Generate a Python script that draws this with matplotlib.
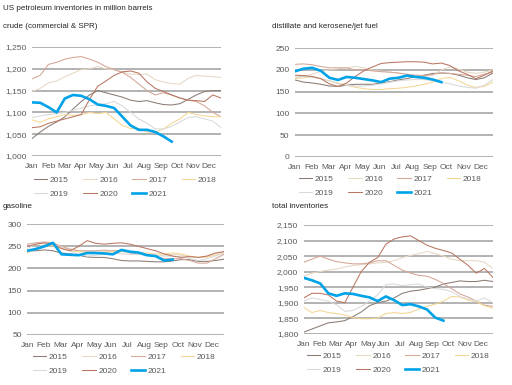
import numpy as np
import matplotlib
matplotlib.use("Agg")
import matplotlib.pyplot as plt

plt.rcParams['font.family'] = ['Liberation Sans', 'DejaVu Sans']

months = ["Jan", "Feb", "Mar", "Apr", "May", "Jun", "Jul", "Aug", "Sep", "Oct", "Nov", "Dec"]
years = ["2015", "2016", "2017", "2018", "2019", "2020", "2021"]
colors = {"2015": "#8a7b74", "2016": "#e6d8c3", "2017": "#d4a697", "2018": "#f4d692",
          "2019": "#d9d9d9", "2020": "#b97662", "2021": "#00a3e8"}

# ---------------- crude (commercial & SPR) ----------------
crude = {
    "2015": [1040, 1055, 1068, 1078, 1090, 1108, 1125, 1140, 1150, 1145, 1140, 1135, 1128, 1125, 1127, 1122,
             1118, 1117, 1120, 1130, 1140, 1148, 1150, 1150],
    "2016": [1148, 1155, 1168, 1172, 1182, 1190, 1198, 1200, 1205, 1200, 1198, 1192, 1188, 1187, 1188, 1175,
             1170, 1166, 1165, 1178, 1185, 1183, 1182, 1180],
    "2017": [1177, 1185, 1210, 1215, 1222, 1226, 1228, 1222, 1215, 1205, 1198, 1192, 1180, 1165, 1150, 1140,
             1145, 1140, 1133, 1128, 1125, 1115, 1100, 1090],
    "2018": [1083, 1077, 1085, 1090, 1095, 1093, 1095, 1100, 1097, 1100, 1085, 1070, 1063, 1063, 1055, 1055,
             1062, 1075, 1085, 1100, 1095, 1092, 1090, 1090],
    "2019": [1088, 1092, 1095, 1097, 1100, 1105, 1110, 1115, 1118, 1120, 1125, 1115, 1100, 1085, 1075, 1062,
             1062, 1068, 1078, 1088, 1090, 1085, 1080, 1065],
    "2020": [1065, 1067, 1075, 1080, 1085, 1090, 1095, 1130, 1160, 1172, 1185, 1193, 1195, 1190, 1170, 1155,
             1148, 1140, 1133, 1128, 1127, 1125, 1140, 1133],
    "2021": [1123, 1122, 1112, 1100, 1132, 1140, 1138, 1130, 1118, 1115, 1110, 1090, 1070, 1060, 1060, 1055,
             1045, 1033],
}

# ---------------- distillate and kerosene/jet fuel ----------------
distillate = {
    "2015": [177, 172, 170, 167, 163, 162, 165, 167, 167, 167, 170, 173, 177, 180, 185, 188,
             192, 193, 192, 188, 182, 178, 182, 193],
    "2016": [183, 186, 190, 197, 200, 203, 205, 208, 205, 200, 197, 195, 193, 190, 187, 185,
             188, 200, 207, 202, 195, 192, 195, 200],
    "2017": [213, 214, 212, 208, 205, 205, 205, 200, 200, 198, 196, 195, 193, 190, 188, 187,
             190, 193, 192, 190, 188, 185, 190, 195],
    "2018": [180, 182, 185, 180, 175, 170, 165, 160, 157, 155, 155, 157, 158, 160, 163, 167,
             172, 180, 183, 175, 165, 160, 162, 172],
    "2019": [183, 185, 183, 180, 175, 168, 165, 163, 163, 165, 168, 172, 175, 177, 178, 178,
             175, 172, 168, 163, 160, 158, 165, 178],
    "2020": [188, 187, 185, 180, 168, 162, 170, 185, 198, 207, 215, 217, 218, 219, 219, 218,
             214, 216, 210, 198, 190, 180, 188, 198],
    "2021": [197, 203, 205, 198, 182, 177, 184, 182, 179, 176, 172, 180, 182, 187, 184, 182,
             178, 172],
}

# ---------------- gasoline ----------------
gasoline = {
    "2015": [240, 240, 242, 240, 235, 233, 230, 226, 225, 225, 222, 218, 217, 217, 216, 215,
             215, 217, 220, 220, 216, 216, 218, 221],
    "2016": [238, 245, 255, 255, 250, 245, 240, 238, 240, 242, 240, 240, 238, 235, 232, 230,
             230, 232, 230, 226, 225, 228, 234, 238],
    "2017": [255, 258, 260, 258, 250, 243, 240, 240, 240, 240, 240, 240, 235, 233, 230, 228,
             222, 222, 222, 218, 212, 212, 222, 232],
    "2018": [235, 245, 250, 252, 245, 240, 238, 237, 235, 237, 238, 238, 237, 235, 235, 233,
             233, 235, 233, 228, 225, 226, 230, 235],
    "2019": [245, 255, 258, 255, 248, 240, 232, 228, 230, 232, 235, 233, 232, 232, 230, 230,
             228, 228, 226, 222, 218, 222, 228, 235],
    "2020": [250, 255, 258, 255, 245, 240, 250, 263, 257, 255, 257, 258, 255, 250, 245, 240,
             233, 228, 225, 227, 225, 228, 235, 238],
    "2021": [240, 244, 250, 258, 232, 231, 230, 235, 235, 234, 232, 242, 238, 236, 230, 228,
             218, 220],
}

# ---------------- total inventories ----------------
total = {
    "2015": [1805, 1815, 1825, 1835, 1838, 1842, 1855, 1870, 1890, 1900, 1905, 1915, 1930, 1937, 1940, 1945,
             1950, 1960, 1965, 1970, 1968, 1968, 1972, 1968],
    "2016": [1985, 1995, 2000, 2005, 2008, 2015, 2020, 2022, 2025, 2028, 2030, 2035, 2045, 2052, 2058, 2065,
             2058, 2050, 2040, 2035, 2035, 2035, 2030, 2010],
    "2017": [2030, 2040, 2050, 2040, 2032, 2028, 2025, 2025, 2028, 2035, 2035, 2020, 2005, 1995, 1988, 1985,
             1975, 1962, 1945, 1928, 1918, 1905, 1892, 1888],
    "2018": [1885, 1868, 1875, 1868, 1865, 1860, 1852, 1848, 1848, 1850, 1865, 1868, 1865, 1868, 1880, 1888,
             1895, 1905, 1920, 1918, 1908, 1903, 1890, 1882],
    "2019": [1905, 1915, 1910, 1905, 1893, 1872, 1875, 1888, 1905, 1925, 1958, 1960, 1955, 1958, 1960, 1950,
             1945, 1943, 1935, 1920, 1912, 1905, 1915, 1900],
    "2020": [1915, 1930, 1930, 1925, 1905, 1900, 1950, 2000, 2030, 2045, 2088, 2105, 2112, 2115, 2100, 2085,
             2075, 2068, 2060, 2040, 2020, 1995, 2010, 1982],
    "2021": [1980, 1972, 1962, 1930, 1922, 1930, 1928, 1922, 1917, 1905, 1920, 1908, 1892, 1895, 1888, 1878,
             1852, 1842],
}

panels = [
    ("crude (commercial & SPR)", crude, (1000, 1250), [1000, 1050, 1100, 1150, 1200, 1250],
     [32, 47, 221, 156], (34, 176)),
    ("distillate and kerosene/jet fuel", distillate, (0, 250), [0, 50, 100, 150, 200, 250],
     [295, 48.3, 493, 156.7], (299, 175)),
    ("gasoline", gasoline, (50, 300), [50, 100, 150, 200, 250, 300],
     [27.3, 224.3, 224, 334.7], (33, 353)),
    ("total inventories", total, (1800, 2150), [1800, 1850, 1900, 1950, 2000, 2050, 2100, 2150],
     [303.7, 225, 492.7, 333.7], (307, 352)),
]
title_pos = [(3, 27), (272, 27), (3, 207), (272, 207)]

# legend order so that it reads row by row: 2015-2018 / 2019-2021
legend_order = ["2015", "2019", "2016", "2020", "2017", "2021", "2018"]

W, H = 512, 385
fig = plt.figure(figsize=(W / 100, H / 100), dpi=100)
fig.text(3 / W, 1 - 9 / H, "US petroleum inventories in million barrels", fontsize=5.8,
         color="#262626", va="center", ha="left")

XMAX = 11.75
for (name, data, ylim, yticks, box, legpos), tpos in zip(panels, title_pos):
    l, t, r, b = box
    ax = fig.add_axes([l / W, 1 - b / H, (r - l) / W, (b - t) / H])
    fig.text(tpos[0] / W, 1 - tpos[1] / H, name, fontsize=5.8, color="#262626", va="center", ha="left")
    handles = {}
    n_full = len(data["2015"])
    xs_full = np.linspace(0, XMAX, n_full)
    for y in years:
        vals = data[y]
        xs = xs_full[:len(vals)]
        if y == "2021":
            h, = ax.plot(xs, vals, color=colors[y], lw=1.9, label=y, zorder=5, solid_joinstyle="round")
        else:
            h, = ax.plot(xs, vals, color=colors[y], lw=0.75, label=y, zorder=3)
        handles[y] = h
    ax.set_xlim(0, XMAX)
    ax.set_ylim(*ylim)
    ax.set_yticks(yticks)
    ax.set_yticklabels([f"{v:,}" for v in yticks])
    ax.set_xticks(range(12))
    ax.set_xticklabels(months)
    ax.grid(axis="y", color="#a6a6a6", lw=1.2)
    ax.set_axisbelow(True)
    for s in ax.spines.values():
        s.set_visible(False)
    ax.tick_params(length=0, labelsize=6, colors="#595959", pad=4)
    ax.tick_params(axis="x", pad=5)
    ax.set_facecolor("none")
    leg = ax.legend([handles[k] for k in legend_order], legend_order,
                    loc="upper left", bbox_to_anchor=(legpos[0] / W, 1 - legpos[1] / H),
                    bbox_transform=fig.transFigure, ncol=4, frameon=False, fontsize=6,
                    handlelength=1.6, handletextpad=0.3, columnspacing=1.75, labelspacing=0.75,
                    borderaxespad=0, borderpad=0)
    for txt in leg.get_texts():
        txt.set_color("#595959")

fig.savefig("out.png", dpi=100)
